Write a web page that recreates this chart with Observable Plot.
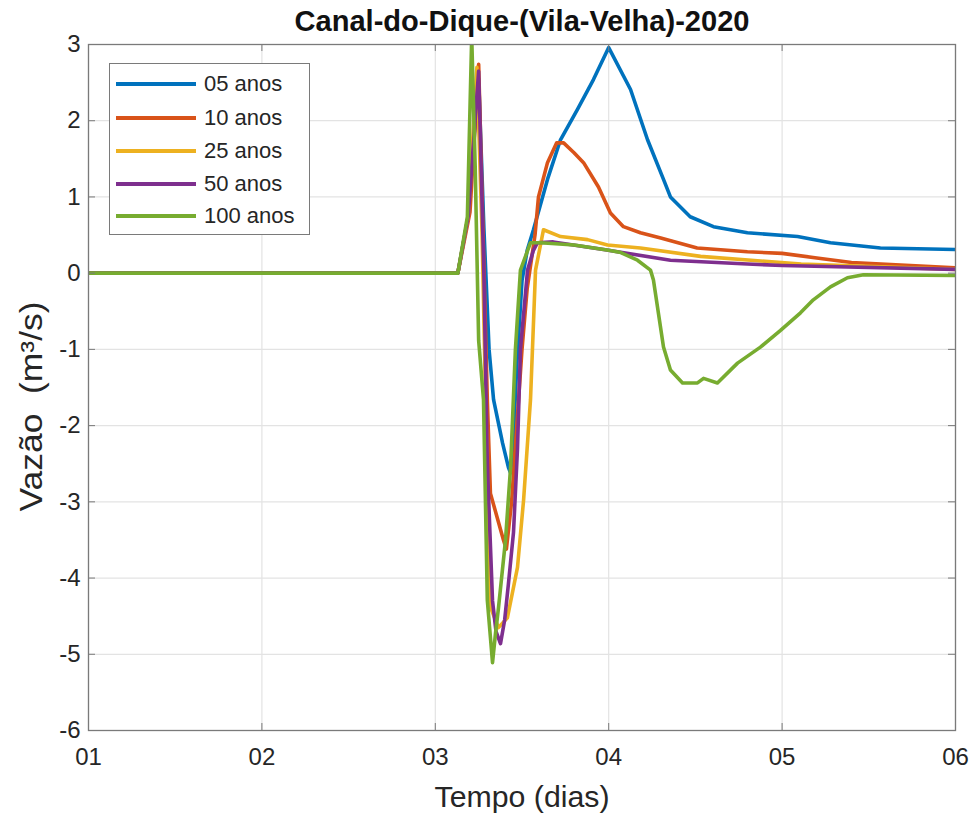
<!DOCTYPE html>
<html><head><meta charset="utf-8">
<script src="https://cdn.jsdelivr.net/npm/d3@7"></script>
<script src="https://cdn.jsdelivr.net/npm/@observablehq/plot@0.6"></script>
<style>
body{margin:0;background:#fff;font-family:"Liberation Sans",Arial,sans-serif;}
#wrap{position:relative;width:975px;height:813px;}
#legend{position:absolute;left:109px;top:63px;width:201px;height:172px;border:1.3px solid #7a7a7a;background:#fff;box-sizing:border-box;}
.row{position:absolute;left:0;height:32px;display:flex;align-items:center;}
.sw{width:80px;height:4px;margin-left:6px;}
.lb{margin-left:8px;font-size:22px;color:#262626;}
</style></head><body><div id="wrap"></div>
<script>
const title = "Canal-do-Dique-(Vila-Velha)-2020";
const xLabel = "Tempo (dias)";
const yLabel = "Vazão\u00a0 (m³/s)";
const seriesNames = ["05 anos", "10 anos", "25 anos", "50 anos", "100 anos"];
const seriesColors = ["#0072BD", "#D95319", "#EDB120", "#7E2F8E", "#77AC30"];
const xTicks = [1, 2, 3, 4, 5, 6];
const xTickLabels = ["01", "02", "03", "04", "05", "06"];
const yTicks = [-6, -5, -4, -3, -2, -1, 0, 1, 2, 3];

const t05 = [1, 3.13, 3.19, 3.25, 3.28, 3.31, 3.336, 3.388, 3.422, 3.434, 3.45, 3.47, 3.50, 3.53, 3.566, 3.647, 3.722, 3.82, 3.912, 4.0, 4.126, 4.224, 4.316, 4.356, 4.47, 4.604, 4.80, 5.089, 5.279, 5.567, 6.0];
const q05 = [0, 0, 0.75, 2.55, 0.6, -1.0, -1.66, -2.23, -2.55, -2.62, -2.2, -1.2, -0.1, 0.3, 0.57, 1.23, 1.75, 2.15, 2.54, 2.96, 2.41, 1.75, 1.23, 1.0, 0.74, 0.61, 0.53, 0.48, 0.40, 0.33, 0.31];

const t10 = [1, 3.13, 3.20, 3.25, 3.27, 3.30, 3.318, 3.393, 3.41, 3.44, 3.47, 3.50, 3.53, 3.575, 3.595, 3.647, 3.70, 3.74, 3.80, 3.855, 3.941, 4.01, 4.085, 4.183, 4.30, 4.51, 4.80, 5.0, 5.2, 5.4, 6.0];
const q10 = [0, 0, 0.8, 2.74, 1.0, -1.66, -2.89, -3.5, -3.62, -3.0, -2.0, -1.0, -0.2, 0.5, 1.0, 1.45, 1.71, 1.71, 1.58, 1.45, 1.13, 0.79, 0.61, 0.53, 0.46, 0.33, 0.28, 0.26, 0.2, 0.14, 0.07];

const t25 = [1, 3.13, 3.19, 3.24, 3.27, 3.29, 3.318, 3.364, 3.416, 3.474, 3.509, 3.549, 3.578, 3.624, 3.722, 3.878, 3.993, 4.183, 4.53, 5.11, 6.0];
const q25 = [0, 0, 0.75, 2.7, 0.5, -1.66, -4.38, -4.65, -4.52, -3.86, -2.98, -1.66, 0.04, 0.57, 0.48, 0.44, 0.37, 0.33, 0.22, 0.12, 0.05];

const t50 = [1, 3.13, 3.19, 3.25, 3.28, 3.30, 3.33, 3.35, 3.376, 3.40, 3.422, 3.451, 3.474, 3.491, 3.532, 3.566, 3.589, 3.68, 3.97, 4.356, 4.80, 5.0, 6.0];
const q50 = [0, 0, 0.75, 2.65, 0.0, -2.5, -4.3, -4.7, -4.86, -4.55, -4.07, -3.4, -2.3, -1.0, 0.04, 0.3, 0.4, 0.41, 0.31, 0.17, 0.12, 0.10, 0.05];

const t100 = [1, 3.13, 3.185, 3.21, 3.23, 3.25, 3.278, 3.30, 3.33, 3.347, 3.364, 3.405, 3.434, 3.462, 3.491, 3.549, 3.607, 3.80, 4.0, 4.07, 4.166, 4.241, 4.258, 4.316, 4.356, 4.426, 4.512, 4.547, 4.627, 4.743, 4.875, 4.991, 5.106, 5.18, 5.279, 5.377, 5.469, 6.0];
const q100 = [0, 0, 0.74, 3.1, 1.4, -0.88, -1.66, -4.29, -5.11, -4.73, -4.4, -3.5, -2.55, -1.0, 0.04, 0.40, 0.40, 0.37, 0.30, 0.27, 0.17, 0.04, -0.09, -0.97, -1.27, -1.44, -1.44, -1.38, -1.44, -1.18, -0.97, -0.75, -0.52, -0.35, -0.18, -0.06, -0.02, -0.03];

const seriesT = [t05, t10, t25, t50, t100];
const seriesQ = [q05, q10, q25, q50, q100];
const data = seriesNames.flatMap((name, k) => seriesT[k].map((t, i) => ({serie: name, t, q: seriesQ[k][i]})));

const axisColor = "#7a7a7a";
const gridColor = "#e3e3e3";
const textColor = "#262626";

const chart = Plot.plot({
  width: 975, height: 813,
  marginLeft: 88, marginRight: 20, marginTop: 44, marginBottom: 83,
  style: {fontFamily: "'Liberation Sans', Arial, sans-serif", background: "#fff", color: textColor},
  x: {domain: [1, 6]},
  y: {domain: [-6, 3]},
  color: {domain: seriesNames, range: seriesColors},
  marks: [
    Plot.gridX(xTicks, {stroke: gridColor, strokeOpacity: 1, strokeWidth: 1.2}),
    Plot.gridY(yTicks, {stroke: gridColor, strokeOpacity: 1, strokeWidth: 1.2}),
    Plot.line(data, {x: "t", y: "q", z: "serie", stroke: "serie", strokeWidth: 3.6, clip: true, strokeLinejoin: "round"}),
    Plot.frame({stroke: axisColor, strokeWidth: 1.3}),
    Plot.tickX(xTicks, {x: d => d, insetTop: 679, stroke: axisColor}),
    Plot.tickX(xTicks, {x: d => d, insetBottom: 679, stroke: axisColor}),
    Plot.tickY(yTicks, {y: d => d, insetRight: 860, stroke: axisColor}),
    Plot.tickY(yTicks, {y: d => d, insetLeft: 860, stroke: axisColor}),
    Plot.axisX(xTicks, {tickSize: 0, tickPadding: 17, fontSize: 24, tickFormat: d => xTickLabels[xTicks.indexOf(d)], label: null, fill: textColor}),
    Plot.axisY(yTicks, {tickSize: 0, tickPadding: 8, fontSize: 24, tickFormat: d => String(d), label: null, fill: textColor}),
    Plot.text([title], {frameAnchor: "top", dy: -23, lineAnchor: "middle", fontSize: 29, fontWeight: "bold", fill: "#111"}),
    Plot.text([xLabel], {frameAnchor: "bottom", dy: 67, lineAnchor: "middle", fontSize: 30, fill: textColor}),
    Plot.text([yLabel], {frameAnchor: "left", dx: -56, dy: 19, rotate: -90, textAnchor: "middle", lineAnchor: "middle", fontSize: 31, fill: textColor})
  ]
});
const wrap = document.getElementById("wrap");
wrap.appendChild(chart);

// stretch text to the reference's measured lengths
const fits = [[title, 455], [xLabel, 175], [yLabel, 210]];
d3.select(chart).selectAll("text").each(function() {
  const f = fits.find(([s]) => s === this.textContent);
  if (f) { this.setAttribute("textLength", f[1]); this.setAttribute("lengthAdjust", "spacingAndGlyphs"); }
});

const legend = document.createElement("div");
legend.id = "legend";
const rowCenters = [20, 54, 87, 120, 152];
seriesNames.forEach((name, i) => {
  const row = document.createElement("div");
  row.className = "row";
  row.style.top = (rowCenters[i] - 16) + "px";
  const sw = document.createElement("div");
  sw.className = "sw";
  sw.style.background = seriesColors[i];
  const lb = document.createElement("span");
  lb.className = "lb";
  lb.textContent = name;
  row.appendChild(sw); row.appendChild(lb);
  legend.appendChild(row);
});
wrap.appendChild(legend);
</script>
</body></html>
